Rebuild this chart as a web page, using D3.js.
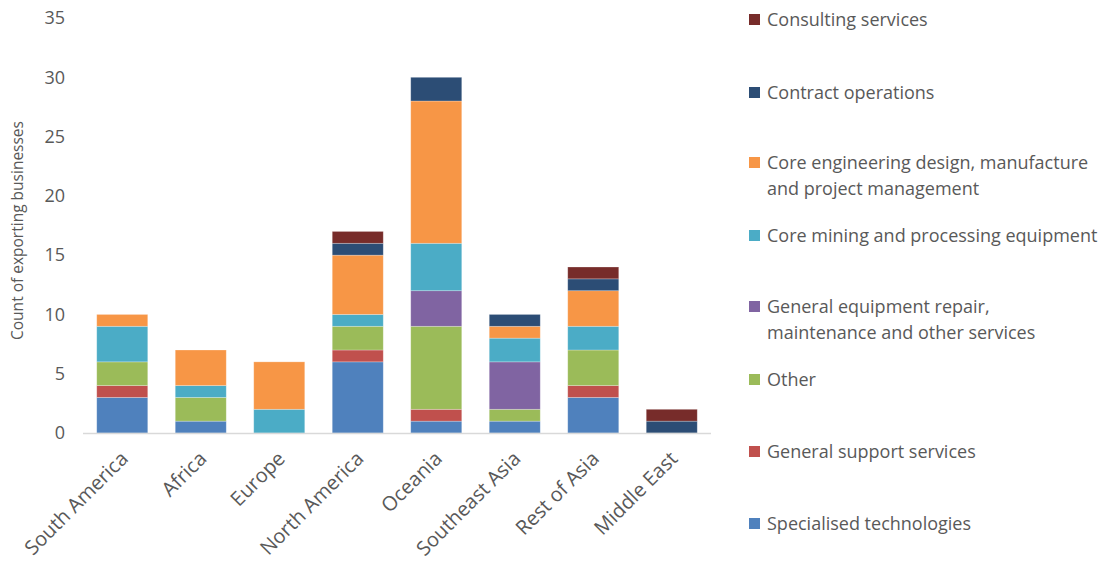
<!DOCTYPE html>
<html>
<head>
<meta charset="utf-8">
<script src="https://cdn.jsdelivr.net/npm/d3@7"></script>
<style>
  html, body { margin: 0; padding: 0; background: #fff; }
  svg { display: block; }
  text { font-family: "Open Sans", "Liberation Sans", sans-serif; fill: #595959; }
</style>
</head>
<body>
<svg id="chart" width="1106" height="561"></svg>
<script>
// Regions (x categories)
const regions = ["South America", "Africa", "Europe", "North America", "Oceania", "Southeast Asia", "Rest of Asia", "Middle East"];

// Service categories, bottom of stack first
const seriesNames = [
  "Specialised technologies",
  "General support services",
  "Other",
  "General equipment repair, maintenance and other services",
  "Core mining and processing equipment",
  "Core engineering design, manufacture and project management",
  "Contract operations",
  "Consulting services"
];
const seriesColors = ["#4F81BD", "#C0504D", "#9BBB59", "#8064A2", "#4BACC6", "#F79646", "#2C4D75", "#772C2A"];

// Counts per region, one array per series (same order as regions)
const specialisedTech   = [3, 1, 0, 6, 1, 1, 3, 0];
const generalSupport    = [1, 0, 0, 1, 1, 0, 1, 0];
const other             = [2, 2, 0, 2, 7, 1, 3, 0];
const equipmentRepair   = [0, 0, 0, 0, 3, 4, 0, 0];
const coreMining        = [3, 1, 2, 1, 4, 2, 2, 0];
const coreEngineering   = [1, 3, 4, 5, 12, 1, 3, 0];
const contractOps       = [0, 0, 0, 1, 2, 1, 1, 1];
const consulting        = [0, 0, 0, 1, 0, 0, 1, 1];

const yTicks = [0, 5, 10, 15, 20, 25, 30, 35];

// Legend lines (top to bottom) with wrapped labels
const legendLabels = [
  ["Consulting services"],
  ["Contract operations"],
  ["Core engineering design, manufacture", "and project management"],
  ["Core mining and processing equipment"],
  ["General equipment repair,", "maintenance and other services"],
  ["Other"],
  ["General support services"],
  ["Specialised technologies"]
];

const seriesValues = [specialisedTech, generalSupport, other, equipmentRepair, coreMining, coreEngineering, contractOps, consulting];

const rows = regions.map((r, i) => {
  const row = { region: r };
  seriesNames.forEach((s, j) => { row[s] = seriesValues[j][i]; });
  return row;
});

const svg = d3.select("#chart");
const plotLeft = 83, plotRight = 711, plotTop = 18, plotBottom = 433;

const x = d3.scaleBand().domain(regions).range([plotLeft, plotRight]).paddingInner(0.35).paddingOuter(0.175);
const y = d3.scaleLinear().domain([0, 35]).range([plotBottom, plotTop]);

const stacked = d3.stack().keys(seriesNames)(rows);

// Bars
svg.append("g").selectAll("g")
  .data(stacked)
  .join("g")
  .attr("fill", (d, i) => seriesColors[i])
  .selectAll("rect")
  .data(d => d.filter(p => p[1] - p[0] > 0))
  .join("rect")
  .attr("x", d => x(d.data.region))
  .attr("width", x.bandwidth())
  .attr("y", d => y(d[1]))
  .attr("height", d => y(d[0]) - y(d[1]))
  .attr("stroke", "#ffffff")
  .attr("stroke-opacity", 0.35)
  .attr("stroke-width", 0.75);

// X axis baseline
svg.append("line")
  .attr("x1", plotLeft).attr("x2", plotRight)
  .attr("y1", y(0) + 0.5).attr("y2", y(0) + 0.5)
  .attr("stroke", "#D9D9D9").attr("stroke-width", 1.5);

// Y axis tick labels
const yAxis = d3.axisLeft(y).tickValues(yTicks).tickSize(0).tickPadding(0);
const yg = svg.append("g").attr("transform", `translate(65,0)`).call(yAxis);
yg.select(".domain").remove();
yg.selectAll("text")
  .attr("font-size", 18)
  .attr("fill", "#595959")
  .style("font-family", "'Open Sans', sans-serif");

// X axis labels, rotated
const xAxis = d3.axisBottom(x).tickSize(0).tickPadding(0);
const xg = svg.append("g").attr("transform", `translate(0,${plotBottom})`).call(xAxis);
xg.select(".domain").remove();
xg.selectAll("text")
  .attr("font-size", 20)
  .attr("fill", "#595959")
  .style("font-family", "'Open Sans', sans-serif")
  .attr("text-anchor", "end")
  .attr("dy", 0)
  .attr("transform", "translate(7,27) rotate(-45)");

// Y axis title
svg.append("text")
  .attr("transform", `translate(23,${(plotTop + plotBottom) / 2 + 5}) rotate(-90)`)
  .attr("text-anchor", "middle")
  .attr("font-size", 15.5)
  .text("Count of exporting businesses");

// Legend
const legendY = [20, 93, 163, 236, 307, 380, 452, 524];
const legendColors = seriesColors.slice().reverse();
const lg = svg.append("g");
legendLabels.forEach((lines, i) => {
  const g = lg.append("g").attr("transform", `translate(749,${legendY[i]})`);
  g.append("rect").attr("x", 0).attr("y", -6).attr("width", 11).attr("height", 11).attr("fill", legendColors[i]);
  lines.forEach((t, k) => {
    g.append("text").attr("x", 18).attr("y", 6 + k * 26).attr("font-size", 18).text(t);
  });
});
</script>
</body>
</html>
